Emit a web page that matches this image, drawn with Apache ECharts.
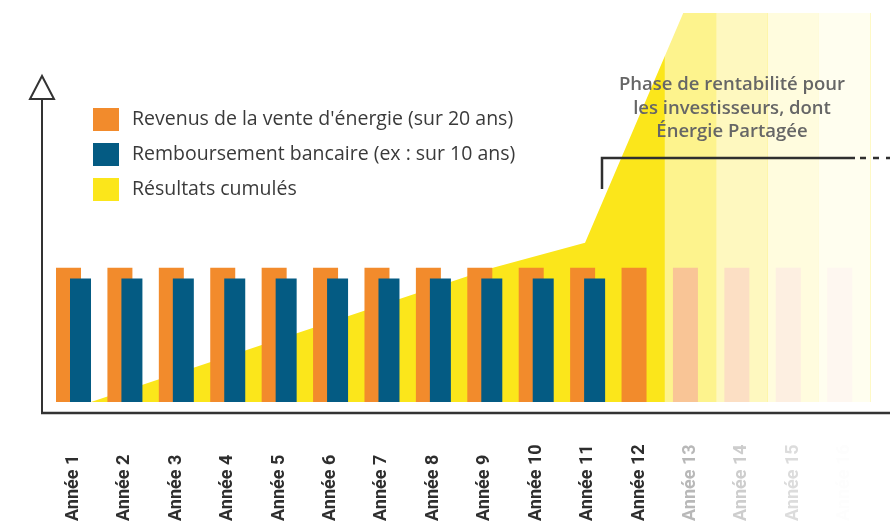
<!DOCTYPE html>
<html>
<head>
<meta charset="utf-8">
<script src="https://cdn.jsdelivr.net/npm/echarts@6/dist/echarts.min.js"></script>
<style>
html,body{margin:0;padding:0;background:#ffffff;}
#chart{width:890px;height:522px;}
</style>
</head>
<body>
<div id="chart"></div>
<script>
// ---- data ----
var categories = ['Année 1','Année 2','Année 3','Année 4','Année 5','Année 6','Année 7','Année 8',
  'Année 9','Année 10','Année 11','Année 12','Année 13','Année 14','Année 15','Année 16',''];
var labelColors = ['#2e2e2e','#2e2e2e','#2e2e2e','#2e2e2e','#2e2e2e','#2e2e2e','#2e2e2e','#2e2e2e',
  '#2e2e2e','#2e2e2e','#2e2e2e','#2e2e2e','#b8b8b8','#cdcdcd','#dcdcdc','#fdfdfd','#ffffff'];
var revenus = [100,100,100,100,100,100,100,100,100,100,100,100,100,100,100,100,null];
var remboursement = [92,92,92,92,92,92,92,92,92,92,92,null,null,null,null,null,null];
// cumulated results: x in category units (0 = left edge of Année 1), y in same units as bars
var cumulX = [0.84, 8.66, 10.45, 12.36, 17];
var cumulY = [0, 100, 118.7, 290, 290];
// fading veil over the future years
var fadeValues = [null,null,null,null,null,null,null,null,null,null,null,null,290,290,290,290,290];
var fadeOpacity = [0,0,0,0,0,0,0,0,0,0,0,0,0.5,0.72,0.86,0.93,1];
var yMax = 290;

var ORANGE = '#f28b2c', BLUE = '#045b83', YELLOW = '#fbe61b';

var chart = echarts.init(document.getElementById('chart'), null, {renderer:'canvas'});

var xData = categories.map(function(c,i){
  return {value:c, textStyle:{color:labelColors[i], align:'left', verticalAlign:'middle'}};
});

var option = {
  animation:false,
  backgroundColor:'#ffffff',
  grid:{left:47.8, top:13, width:874, height:389, containLabel:false, outerBoundsMode:'none'},
  legend:{
    orient:'vertical', left:93, top:108, itemWidth:26, itemHeight:23, itemGap:12, padding:0,
    textStyle:{fontFamily:'Open Sans', fontSize:19.5, color:'#3a3a3a', padding:[0,0,0,8]},
    data:[
      {name:"Revenus de la vente d'énergie (sur 20 ans)", icon:'rect', itemStyle:{color:ORANGE}},
      {name:'Remboursement bancaire (ex : sur 10 ans)', icon:'rect', itemStyle:{color:BLUE}},
      {name:'Résultats cumulés', icon:'rect', itemStyle:{color:YELLOW}}
    ]
  },
  xAxis:[
    {type:'category', data:xData, boundaryGap:true,
     axisLine:{show:false}, axisTick:{show:false}, splitLine:{show:false},
     axisLabel:{rotate:90, align:'left', margin:119, interval:0,
       fontFamily:'Roboto', fontWeight:'bold', fontSize:18}},
    {type:'category', data:categories, show:false, boundaryGap:true},
    {type:'value', min:0, max:17, show:false}
  ],
  yAxis:{type:'value', min:0, max:yMax, show:false, splitLine:{show:false}},
  series:[
    {name:'Résultats cumulés', type:'line', xAxisIndex:2, z:1,
     data:cumulX.map(function(x,i){return [x, cumulY[i]];}),
     showSymbol:false, symbol:'none', lineStyle:{width:0, color:YELLOW},
     itemStyle:{color:YELLOW}, areaStyle:{color:YELLOW, opacity:1}, clip:true},
    {name:"Revenus de la vente d'énergie (sur 20 ans)", type:'bar', xAxisIndex:0, z:2,
     data:revenus, barWidth:25, barGap:'-44%', itemStyle:{color:ORANGE}},
    {name:'Remboursement bancaire (ex : sur 10 ans)', type:'bar', xAxisIndex:0, z:3,
     data:remboursement, barWidth:21, itemStyle:{color:BLUE}},
    {name:'fade', type:'bar', xAxisIndex:1, z:5, barWidth:'100%', barCategoryGap:0,
     silent:true,
     data:fadeValues.map(function(v,i){
       return v==null ? null : {value:v, itemStyle:{color:'#ffffff', opacity:fadeOpacity[i]}};
     })}
  ],
  graphic:[
    {type:'line', z:50, shape:{x1:42, y1:100, x2:42, y2:414}, style:{stroke:'#333333', lineWidth:2}},
    {type:'polygon', z:50, shape:{points:[[42,76],[30,99],[54,99]]},
     style:{fill:'#ffffff', stroke:'#333333', lineWidth:2}},
    {type:'line', z:50, shape:{x1:41, y1:413, x2:890, y2:413}, style:{stroke:'#333333', lineWidth:2.5}},
    {type:'polyline', z:50, shape:{points:[[602,189],[602,158],[855,158]]},
     style:{stroke:'#2f2f2f', lineWidth:2.5, fill:null}},
    {type:'line', z:50, shape:{x1:860, y1:158, x2:892, y2:158},
     style:{stroke:'#2f2f2f', lineWidth:2.5, lineDash:[6,7]}},
    {type:'text', z:50, x:732, y:73,
     style:{text:'Phase de rentabilité pour\nles investisseurs, dont\nÉnergie Partagée',
       align:'center', verticalAlign:'top', textAlign:'center',
       font:'600 18.5px "Open Sans"', fill:'#666666', lineHeight:23.5}}
  ]
};
chart.setOption(option);
</script>
</body>
</html>
